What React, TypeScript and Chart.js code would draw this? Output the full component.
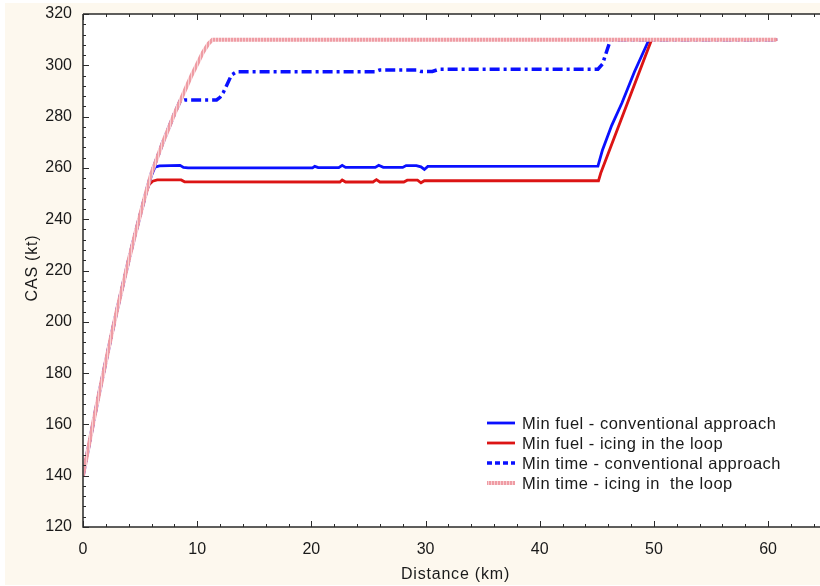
import React, { useEffect, useRef } from "react";
import { Chart, registerables } from "chart.js";

Chart.register(...registerables);

const FONT = "'Liberation Sans', Arial, sans-serif";

// Axis ticks
const xTickValues = [0, 10, 20, 30, 40, 50, 60];
const yTickValues = [120, 140, 160, 180, 200, 220, 240, 260, 280, 300, 320];

// Shared initial climb (all four trajectories start together)
const climbKm = [0, 0.5, 1, 1.5, 2, 2.5, 3, 3.5, 4, 4.5, 5, 5.5];
const climbCas = [140, 151.5, 163, 174, 184.5, 195, 205, 214.5, 224, 233, 241.5, 250];

// Min fuel - conventional approach
const fuelConvKm = [6, 6.3, 6.7, 8.5, 8.8, 9.2, 20.1, 20.3, 20.6, 22.4, 22.7, 23.0, 25.6, 25.9, 26.3, 28.0, 28.3, 29.2, 29.6, 29.9, 30.2, 45.1, 45.5, 46.3, 47.2, 48.3, 49.5, 49.65, 60.8];
const fuelConvCas = [257, 260.3, 260.8, 261, 260.2, 260, 260, 260.6, 260.1, 260.1, 261, 260.2, 260.2, 261, 260.2, 260.2, 260.9, 260.9, 260.4, 259.4, 260.6, 260.7, 267, 276.5, 285.3, 297.5, 309.3, 310, 310];

// Min fuel - icing in the loop
const fuelIceKm = [5.8, 6.1, 6.5, 8.6, 8.9, 22.5, 22.7, 23.0, 25.4, 25.7, 26.0, 28.1, 28.4, 29.3, 29.6, 29.9, 45.15, 45.35, 49.8, 60.8];
const fuelIceCas = [253.5, 254.8, 255.3, 255.3, 254.6, 254.5, 255.3, 254.5, 254.5, 255.4, 254.5, 254.5, 255.2, 255.2, 254.2, 255, 255, 258, 310, 310];

// Min time - conventional approach
const timeConvKm = [6, 6.5, 7, 7.5, 8, 8.5, 8.9, 11.7, 12.0, 12.3, 12.6, 13.0, 13.45, 25.6, 26.0, 29.2, 29.6, 30.6, 31.2, 45.1, 45.5, 46.1, 46.3, 60.85];
const timeConvCas = [258, 264, 270, 275.5, 281, 286, 286.5, 286.5, 287.5, 289.5, 292.3, 296.2, 297.5, 297.5, 298.2, 298.2, 297.6, 297.6, 298.5, 298.5, 300.5, 308.6, 310, 310];

// Min time - icing in the loop
const timeIceKm = [6, 6.5, 7, 7.5, 8, 8.5, 9, 9.5, 10, 10.5, 11, 11.35, 60.75];
const timeIceCas = [258, 264, 270, 275.5, 281, 286, 291, 296, 300.5, 305, 308.5, 310, 310];

const seriesLabels = [
  "Min fuel - conventional approach",
  "Min fuel - icing in the loop",
  "Min time - conventional approach",
  "Min time - icing in  the loop",
];

const toPoints = (km: number[], cas: number[]) =>
  [...climbKm, ...km].map((x, i) => ({ x, y: [...climbCas, ...cas][i] }));

export default function App() {
  const canvasRef = useRef<HTMLCanvasElement | null>(null);

  useEffect(() => {
    const canvas = canvasRef.current!;
    const ctx0 = canvas.getContext("2d")!;

    // textured pink stroke
    const pc = document.createElement("canvas");
    pc.width = 3;
    pc.height = 3;
    const pctx = pc.getContext("2d")!;
    pctx.fillStyle = "#f8cfd3";
    pctx.fillRect(0, 0, 3, 3);
    pctx.fillStyle = "#ef9ca4";
    pctx.fillRect(0, 0, 2, 3);
    const pinkPattern = ctx0.createPattern(pc, "repeat")!;

    const styles = [
      { color: "#0a10ff", width: 2.8, dash: [] as number[], legendDash: [] as number[] },
      { color: "#dc1414", width: 2.8, dash: [], legendDash: [] },
      { color: "#0a10ff", width: 3.5, dash: [10, 4, 3, 4], legendDash: [5, 3] },
      { color: pinkPattern as any, width: 4, dash: [], legendDash: [] },
    ];

    const framePlugin = {
      id: "frame",
      beforeDraw(chart: any) {
        const { ctx, chartArea: a } = chart;
        ctx.save();
        ctx.fillStyle = "#ffffff";
        ctx.fillRect(0, 0, chart.width, chart.height);
        ctx.fillStyle = "#fdf8ee";
        ctx.fillRect(5, 3, chart.width - 5, chart.height - 4);
        ctx.fillStyle = "#ffffff";
        ctx.fillRect(a.left, a.top, a.right - a.left, a.bottom - a.top);
        ctx.restore();
      },
      afterDraw(chart: any) {
        const { ctx, chartArea: a } = chart;
        const xs = chart.scales.x;
        const ys = chart.scales.y;
        ctx.save();
        ctx.strokeStyle = "#2a2a2a";
        ctx.lineWidth = 1.5;
        ctx.beginPath();
        ctx.moveTo(a.left, a.top);
        ctx.lineTo(a.right, a.top);
        ctx.moveTo(a.left, a.top);
        ctx.lineTo(a.left, a.bottom);
        ctx.lineTo(a.right, a.bottom);
        ctx.stroke();
        ctx.lineWidth = 1;
        ctx.beginPath();
        for (let v = 0; v <= xs.max; v += 2) {
          const px = Math.round(xs.getPixelForValue(v)) + 0.5;
          const len = v % 10 === 0 ? 6 : 3;
          ctx.moveTo(px, a.bottom);
          ctx.lineTo(px, a.bottom - len);
          ctx.moveTo(px, a.top);
          ctx.lineTo(px, a.top + len);
        }
        for (let v = ys.min; v <= ys.max; v += 4) {
          const py = Math.round(ys.getPixelForValue(v)) + 0.5;
          const len = (v - 120) % 20 === 0 ? 6 : 3;
          ctx.moveTo(a.left, py);
          ctx.lineTo(a.left + len, py);
        }
        ctx.stroke();

        // axis titles
        ctx.fillStyle = "#1a1a1a";
        ctx.font = `16px ${FONT}`;
        (ctx as any).letterSpacing = "0.8px";
        ctx.textAlign = "center";
        ctx.textBaseline = "middle";
        ctx.fillText("Distance (km)", (a.left + a.right) / 2 + 4, 575);
        ctx.save();
        ctx.translate(33, 268);
        ctx.rotate(-Math.PI / 2);
        ctx.fillText("CAS (kt)", 0, 0);
        ctx.restore();

        // legend
        ctx.textAlign = "left";
        ctx.font = `16.5px ${FONT}`;
        (ctx as any).letterSpacing = "0.5px";
        seriesLabels.forEach((label, i) => {
          const y = 423 + i * 20;
          const st = styles[i];
          ctx.save();
          ctx.strokeStyle = st.color;
          ctx.lineWidth = st.width;
          ctx.setLineDash(st.legendDash);
          ctx.beginPath();
          ctx.moveTo(487, y);
          ctx.lineTo(515, y);
          ctx.stroke();
          ctx.restore();
          ctx.fillStyle = "#1a1a1a";
          ctx.fillText(label, 522, y + 1);
        });
        ctx.restore();
      },
    };

    const seriesData = [
      toPoints(fuelConvKm, fuelConvCas),
      toPoints(fuelIceKm, fuelIceCas),
      toPoints(timeConvKm, timeConvCas),
      toPoints(timeIceKm, timeIceCas),
    ];
    const drawOrder = [3, 2, 1, 0];

    const chart = new Chart(canvas, {
      type: "line",
      data: {
        datasets: seriesData.map((d, i) => ({
          label: seriesLabels[i],
          data: d,
          borderColor: styles[i].color,
          borderWidth: styles[i].width,
          borderDash: styles[i].dash,
          pointRadius: 0,
          tension: 0,
          fill: false,
          order: drawOrder[i],
        })),
      },
      options: {
        responsive: false,
        animation: false,
        devicePixelRatio: 1,
        layout: { padding: { top: 14, right: 0, left: 0, bottom: 0 } },
        plugins: { legend: { display: false }, tooltip: { enabled: false } },
        scales: {
          x: {
            type: "linear",
            min: 0,
            max: 64.55,
            grid: { display: false, drawTicks: false },
            border: { display: false },
            afterFit(s: any) {
              s.height = 59;
              s.paddingLeft = 0;
              s.paddingRight = 0;
            },
            afterBuildTicks(s: any) {
              s.ticks = xTickValues.map((v) => ({ value: v }));
            },
            ticks: {
              padding: 13,
              color: "#1a1a1a",
              font: { family: FONT, size: 16 },
              maxRotation: 0,
              autoSkip: false,
            },
          },
          y: {
            type: "linear",
            min: 120,
            max: 320,
            grid: { display: false, drawTicks: false },
            border: { display: false },
            afterFit(s: any) {
              s.width = 83;
              s.paddingTop = 0;
              s.paddingBottom = 0;
            },
            afterBuildTicks(s: any) {
              s.ticks = yTickValues.map((v) => ({ value: v }));
            },
            ticks: {
              padding: 11,
              color: "#1a1a1a",
              font: { family: FONT, size: 16 },
              autoSkip: false,
            },
          },
        },
      },
      plugins: [framePlugin],
    } as any);

    return () => chart.destroy();
  }, []);

  return (
    <div style={{ position: "absolute", left: 0, top: 0, width: 820, height: 586 }}>
      <canvas ref={canvasRef} width={820} height={586} style={{ display: "block" }} />
    </div>
  );
}
